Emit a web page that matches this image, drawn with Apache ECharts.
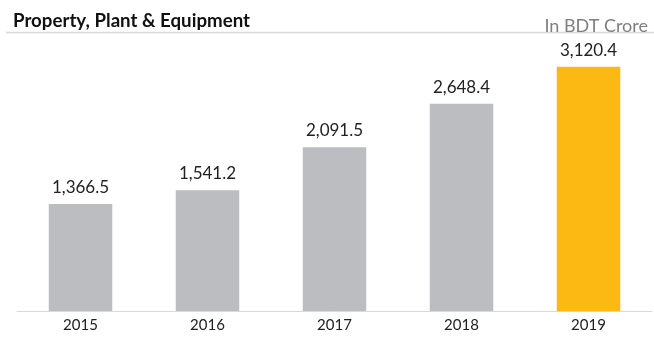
<!DOCTYPE html>
<html>
<head>
<meta charset="utf-8">
<style>
  html, body { margin: 0; padding: 0; background: #fff; }
  #chart { width: 654px; height: 338px; }
</style>
<script src="https://cdn.jsdelivr.net/npm/echarts@6/dist/echarts.min.js"></script>
</head>
<body>
<div id="chart"></div>
<script>
// Property, plant & equipment by year (BDT crore)
const years = ['2015', '2016', '2017', '2018', '2019'];
const ppeValues = [1366.5, 1541.2, 2091.5, 2648.4, 3120.4];
const highlightYear = '2019';

const FONT = 'Lato, "Open Sans", sans-serif';
const GREY = '#bcbdc0';
const GOLD = '#fdb913';

const chart = echarts.init(document.getElementById('chart'), null, { renderer: 'canvas' });

const barData = ppeValues.map((v, i) => ({
  value: v,
  itemStyle: { color: years[i] === highlightYear ? GOLD : GREY }
}));

chart.setOption({
  animation: false,
  backgroundColor: '#ffffff',
  title: [
    {
      text: 'Property, Plant & Equipment',
      left: 8, top: 6,
      textStyle: { fontFamily: FONT, fontWeight: 'bold', fontSize: 18.7, color: '#111' }
    },
    {
      text: 'In BDT Crore',
      right: 1, top: 12,
      textStyle: { fontFamily: FONT, fontWeight: 'normal', fontSize: 18, color: '#7f7f7f' }
    }
  ],
  graphic: [
    {
      type: 'line',
      shape: { x1: 6, y1: 32.5, x2: 654, y2: 32.5 },
      style: { stroke: '#d9d9d9', lineWidth: 1.5 },
      silent: true
    }
  ],
  grid: { left: 17, right: 2, top: 37, bottom: 27 },
  xAxis: {
    type: 'category',
    data: years,
    axisTick: { show: false },
    axisLine: { lineStyle: { color: '#d9d9d9', width: 1 } },
    axisLabel: { fontFamily: FONT, fontSize: 15, color: '#222', margin: 7 }
  },
  yAxis: {
    type: 'value',
    min: 0,
    max: 3500,
    show: false,
    splitLine: { show: false }
  },
  series: [
    {
      type: 'bar',
      data: barData,
      barWidth: '50%',
      label: {
        show: true,
        position: 'top',
        distance: 8,
        fontFamily: FONT,
        fontSize: 17,
        color: '#222',
        formatter: p => p.value.toLocaleString('en-US', { minimumFractionDigits: 1, maximumFractionDigits: 1 })
      }
    }
  ]
});
</script>
</body>
</html>
